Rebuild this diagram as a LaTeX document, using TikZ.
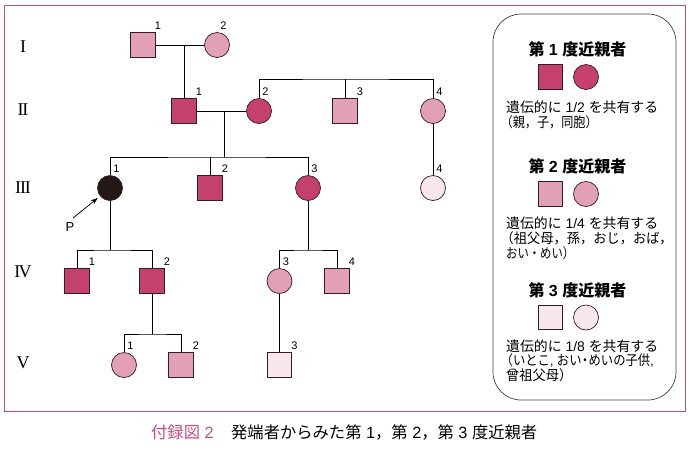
\documentclass[tikz,border=0pt]{standalone}
\usepackage{fontspec}
\usepackage{graphicx}
\setmainfont{Liberation Sans}
\newfontfamily\jp{Noto Sans CJK JP}
\newfontfamily\rom{Liberation Serif}
\newcommand\lat{\rmfamily}
\usetikzlibrary{arrows.meta}
\definecolor{deg1}{HTML}{C4416E}
\definecolor{deg2}{HTML}{E2A0B6}
\definecolor{deg3}{HTML}{F7E6EC}
\definecolor{framec}{HTML}{B8527E}
\definecolor{captc}{HTML}{CC4A80}
\definecolor{edgec}{HTML}{3A1A26}
\definecolor{probc}{HTML}{231815}
\newcommand\mlab[2]{\node[num] (#1n) at ([shift={(15,-19)}]#1) {#2};}
\newcommand\flab[2]{\node[num] (#1n) at ([shift={(6.5,-19)}]#1) {#2};}
\newlength\calA
\newlength\calC
\newlength\calT
\begin{document}
\settowidth\calA{\jp\fontsize{10}{10}\selectfont 遺伝的に{\lat\ 1/2\ }を共有する}%
\settowidth\calC{\jp\fontsize{10}{10}\selectfont 発端者からみた第{\lat\ 1}，第{\lat\ 2}，第{\lat\ 3\ }度近親者}%
\settowidth\calT{\jp\bfseries\fontsize{10}{10}\selectfont 第{\lat\bfseries\ 1\ }度近親者}%
\pgfmathsetmacro\txtsz{1520/\calA}%
\pgfmathsetmacro\capsz{3060/\calC}%
\pgfmathsetmacro\ttlsz{980/\calT}%
\begin{tikzpicture}[x=1pt,y=-1pt,
  male/.style={draw=edgec,line width=0.7pt,minimum size=24.5pt,inner sep=0pt,rectangle},
  female/.style={draw=edgec,line width=0.7pt,minimum size=25pt,inner sep=0pt,circle},
  d1/.style={fill=deg1}, d2/.style={fill=deg2}, d3/.style={fill=deg3}, pb/.style={fill=probc},
  num/.style={font=\fontsize{11}{11}\selectfont,inner sep=0pt},
  gen/.style={font=\rom\fontsize{18}{18}\selectfont,inner sep=0pt},
  ln/.style={line width=0.75pt,black},
  ttl/.style={font=\jp\bfseries\fontsize{\ttlsz}{\ttlsz}\selectfont,inner sep=0pt},
  txt/.style={font=\jp\fontsize{\txtsz}{\txtsz}\selectfont,inner sep=0pt,anchor=west},
  captxt/.style={font=\jp\fontsize{\capsz}{\capsz}\selectfont,inner sep=0pt,anchor=west}
]
\path[use as bounding box] (0,0) rectangle (691,451);
\draw[framec,line width=1pt] (4,5) rectangle (685,411);

% generation labels
\node[gen] (g1) at (23,47) {I};
\node[gen] (g2) at (23,110) {I\kern-1.2pt I};
\node[gen] (g3) at (23,188) {I\kern-1.2pt I\kern-1.2pt I};
\node[gen] (g4) at (23,272) {I\kern-1.8pt V};
\node[gen] (g5) at (23,363) {V};

% individuals
\node[male,d2] (I1) at (143,45) {};
\node[female,d2] (I2) at (217,45) {};
\node[male,d1] (II1) at (184,111) {};
\node[female,d1] (II2) at (259,111) {};
\node[male,d2] (II3) at (345,111) {};
\node[female,d2] (II4) at (433,111) {};
\node[female,pb] (III1) at (110,188) {};
\node[male,d1] (III2) at (210,188) {};
\node[female,d1] (III3) at (308,188) {};
\node[female,d3] (III4) at (433,188) {};
\node[male,d1] (IV1) at (77,281) {};
\node[male,d1] (IV2) at (152,281) {};
\node[female,d2] (IV3) at (279.5,281) {};
\node[male,d2] (IV4) at (337,281) {};
\node[female,d2] (V1) at (124,365) {};
\node[male,d2] (V2) at (181,365) {};
\node[male,d3] (V3) at (279.5,365) {};

% numbers
\mlab{I1}{1} \flab{I2}{2}
\mlab{II1}{1} \flab{II2}{2} \mlab{II3}{3} \flab{II4}{4}
\flab{III1}{1} \mlab{III2}{2} \flab{III3}{3} \flab{III4}{4}
\mlab{IV1}{1} \mlab{IV2}{2} \flab{IV3}{3} \mlab{IV4}{4}
\flab{V1}{1} \mlab{V2}{2} \mlab{V3}{3}

% connectors
\coordinate (m1) at (184,45);
\draw[ln] (I1.east) -- (I2.west);
\draw[ln] (m1) -- (II1.north);
\coordinate (s2) at (345,79);
\draw[ln] (II2.north) |- (s2) -| (II4.north);
\draw[ln] (II3.north) -- (s2);
\draw[ln] (II4.south) -- (III4.north);
\coordinate (m2) at (224,111);
\coordinate (s3) at (224,157);
\draw[ln] (II1.east) -- (II2.west);
\draw[ln] (m2) -- (s3);
\draw[ln] (III1.north) |- (s3) -| (III3.north);
\draw[ln] (III2.north) -- (III2.north |- s3);
\coordinate (s4a) at (110,250);
\draw[ln] (III1.south) -- (s4a);
\draw[ln] (IV1.north) |- (s4a) -| (IV2.north);
\coordinate (s4b) at (308,250);
\draw[ln] (III3.south) -- (s4b);
\draw[ln] (IV3.north) |- (s4b) -| (IV4.north);
\coordinate (s5) at (152,334);
\draw[ln] (IV2.south) -- (s5);
\draw[ln] (V1.north) |- (s5) -| (V2.north);
\draw[ln] (IV3.south) -- (V3.north);

% proband arrow
\node[font=\fontsize{13}{13}\selectfont,inner sep=0pt] (P) at (70,227) {P};
\coordinate (pst) at (73,218);
\draw[ln,-{Stealth[length=7pt,width=5pt]},shorten >=3pt] (pst) -- (III1);

% legend
\node[draw=black!75,line width=0.7pt,rounded corners=28pt,minimum width=183pt,minimum height=386pt] (legend) at (584.5,207) {};
\node[ttl] (t1) at (577.5,49) {第{\lat\bfseries\ 1\ }度近親者};
\node[male,d1] (L1m) at (550.5,77) {};
\node[female,d1] (L1f) at (586,77) {};
\node[txt] (a1) at (506,107) {遺伝的に{\lat\ 1/2\ }を共有する};
\node[txt] (a2) at (500.5,122) {\resizebox{97pt}{\height}{（親，子，同胞）}};
\node[ttl] (t2) at (577.5,166) {第{\lat\bfseries\ 2\ }度近親者};
\node[male,d2] (L2m) at (550.5,194) {};
\node[female,d2] (L2f) at (586,194) {};
\node[txt] (b1) at (506,223) {遺伝的に{\lat\ 1/4\ }を共有する};
\node[txt] (b2) at (500.5,238) {\resizebox{172pt}{\height}{（祖父母，孫，おじ，おば，}};
\node[txt] (b3) at (506,253) {\resizebox{68pt}{\height}{おい・めい）}};
\node[ttl] (t3) at (577.5,290) {第{\lat\bfseries\ 3\ }度近親者};
\node[male,d3] (L3m) at (550.5,317.5) {};
\node[female,d3] (L3f) at (586,317.5) {};
\node[txt] (c1) at (506,346) {遺伝的に{\lat\ 1/8\ }を共有する};
\node[txt] (c2) at (500.5,360) {\resizebox{153pt}{\height}{（いとこ{\lat,\ }おい\kern-3pt・\kern-3ptめいの子供{\lat,}}};
\node[txt] (c3) at (506,375) {\resizebox{66pt}{\height}{曾祖父母）}};

% caption
\node[captxt,text=captc] (cap1) at (151,432) {付録図{\lat\ 2}};
\node[captxt] (cap2) at (231,432) {発端者からみた第{\lat\ 1}，第{\lat\ 2}，第{\lat\ 3\ }度近親者};
\end{tikzpicture}
\end{document}
